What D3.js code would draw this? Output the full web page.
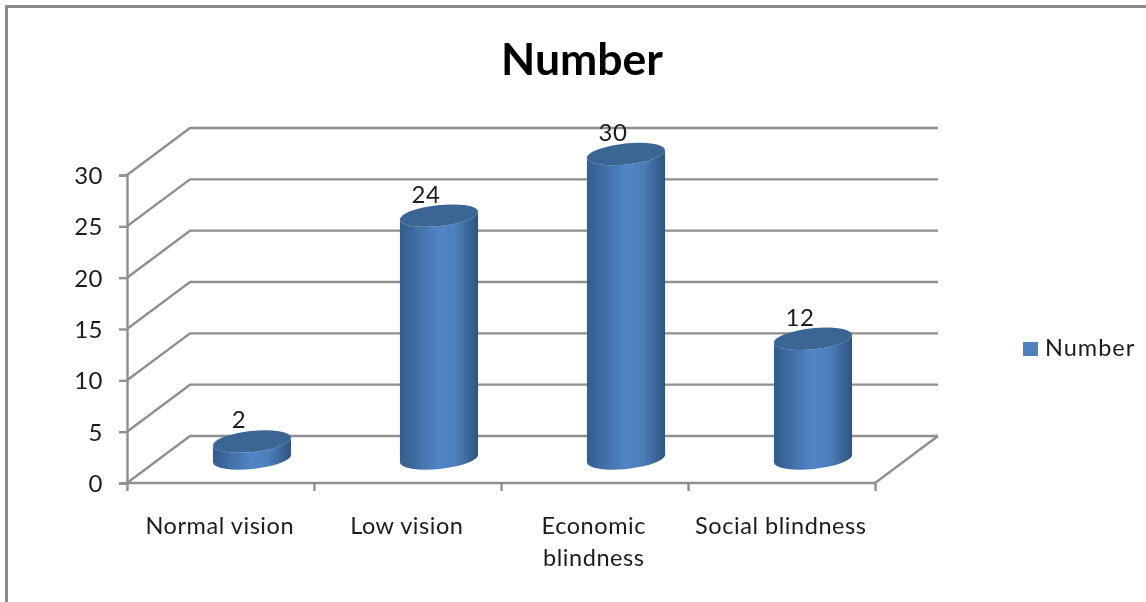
<!DOCTYPE html>
<html>
<head>
<meta charset="utf-8">
<script src="https://d3js.org/d3.v7.min.js"></script>
<style>
	html, body { margin: 0; padding: 0; background: #fff; }
	svg { display: block; }
	text { font-family: Lato, "Open Sans", sans-serif; fill: #1c1c1c; }
</style>
</head>
<body>
<div id="chart"></div>
<script>
const categories = [["Normal vision"], ["Low vision"], ["Economic", "blindness"], ["Social blindness"]];
const values = [2, 24, 30, 12];
const yTicks = [0, 5, 10, 15, 20, 25, 30];
const seriesName = "Number";

const canvas_width = 1146;
const canvas_height = 602;
const grey = "#8f8f8f";

// floor of the 3d box: front edge on the axes, back wall shifted by depth
const depth = {x: 63, y: -47};
const left = 127, right = 875, bottom = 483, top30 = 175;

const svg = d3.select("#chart")
	.append("svg")
		.attr("width", canvas_width)
		.attr("height", canvas_height);

const defs = svg.append("defs");
const grad = defs.append("linearGradient").attr("id", "cyl");
grad.append("stop").attr("offset", "0%").attr("stop-color", "#325d8c");
grad.append("stop").attr("offset", "50%").attr("stop-color", "#5285c6");
grad.append("stop").attr("offset", "72%").attr("stop-color", "#4c7eba");
grad.append("stop").attr("offset", "100%").attr("stop-color", "#2e5480");
defs.append("filter").attr("id", "soft")
	.append("feGaussianBlur").attr("stdDeviation", 0.55);

// outer frame, only top and left are in the picture
svg.append("path")
	.attr("d", d3.line()([[6.5, canvas_height], [6.5, 6.5], [canvas_width, 6.5]]))
	.attr("fill", "none")
	.attr("stroke", "#8a8a8a")
	.attr("stroke-width", 3);

const x = d3.scaleBand()
	.domain(d3.range(categories.length))
	.range([left, right]);

const y = d3.scaleLinear()
	.domain([0, 30])
	.range([bottom, top30]);

const plot = svg.append("g").attr("filter", "url(#soft)");

// gridlines run along the side wall then across the back wall
plot.append("g")
	.selectAll("path")
	.data(yTicks)
	.join("path")
		.attr("fill", "none")
		.attr("stroke", grey)
		.attr("stroke-width", 2.4)
		.attr("d", d => d3.line()([
			[left, y(d)],
			[left + depth.x, y(d) + depth.y],
			[right + depth.x, y(d) + depth.y]
		]));

// floor right edge and front edge
plot.append("path")
	.attr("fill", "none")
	.attr("stroke", grey)
	.attr("stroke-width", 2.4)
	.attr("d", d3.line()([
		[left, bottom],
		[right, bottom],
		[right + depth.x, bottom + depth.y]
	]));

// y axis
const yAxis = plot.append("g")
	.attr("transform", "translate(" + left + ",0)")
	.call(d3.axisLeft(y).tickValues(yTicks).tickSize(8).tickPadding(16));
yAxis.select(".domain").attr("stroke", grey).attr("stroke-width", 2.4);
yAxis.selectAll("line").attr("stroke", grey).attr("stroke-width", 2.4);
yAxis.selectAll("text")
	.attr("font-size", 24)
	.attr("font-family", "Lato")
	.attr("letter-spacing", 0.5)
	.attr("dy", "0.36em");

// x axis ticks sit on the band edges
const edges = d3.scaleLinear()
	.domain([0, categories.length])
	.range([left, right]);
const xAxis = plot.append("g")
	.attr("transform", "translate(0," + bottom + ")")
	.call(d3.axisBottom(edges)
		.tickValues(d3.range(categories.length + 1))
		.tickSize(8)
		.tickFormat(""));
xAxis.select(".domain").remove();
xAxis.selectAll("line").attr("stroke", grey).attr("stroke-width", 2.4);

// category labels
const catLabels = plot.append("g")
	.selectAll("text")
	.data(categories)
	.join("text")
		.attr("text-anchor", "middle")
		.attr("font-size", 23.5)
		.attr("letter-spacing", 0.55);
catLabels.selectAll("tspan")
	.data((d, i) => d.map(line => ({line, i})))
	.join("tspan")
		.attr("x", d => x(d.i) + x.bandwidth() / 2 - 0.7)
		.attr("y", (d, j) => 534 + j * 32)
		.text(d => d.line);

// cylinders
const tilt = 6 * Math.PI / 180;
const rx = x.bandwidth() * 0.21, ry = 10.5;
const barDepth = {x: 31.5, y: -21};
const cx = i => x(i) + x.bandwidth() / 2 + barDepth.x;
const topY = v => y(v) + barDepth.y;
const baseY = topY(0) - 3.5;
const ex = rx * Math.cos(tilt), ey = rx * Math.sin(tilt);
const arc = (sweep, px, py) => "A" + rx + "," + ry + " -6 0 " + sweep + " " + px + "," + py;

const bars = plot.append("g")
	.selectAll("g")
	.data(values)
	.join("g");

bars.append("path")
	.attr("fill", "url(#cyl)")
	.attr("d", (d, i) => {
		const c = cx(i), t = topY(d);
		return "M" + (c - ex) + "," + (t + ey)
			+ "L" + (c - ex) + "," + (baseY + ey)
			+ arc(0, c + ex, baseY - ey)
			+ "L" + (c + ex) + "," + (t - ey)
			+ arc(1, c - ex, t + ey) + "Z";
	});

bars.append("ellipse")
	.attr("fill", "#3b6593")
	.attr("rx", rx)
	.attr("ry", ry)
	.attr("transform", (d, i) => "translate(" + cx(i) + "," + topY(d) + ") rotate(-6)");

// data labels
plot.append("g")
	.selectAll("text")
	.data(values)
	.join("text")
		.attr("text-anchor", "middle")
		.attr("font-size", 24)
		.attr("letter-spacing", 0.5)
		.attr("x", (d, i) => cx(i) - 13)
		.attr("y", d => topY(d) - 13)
		.text(d => d);

// title
plot.append("text")
	.attr("x", 582)
	.attr("y", 75)
	.attr("text-anchor", "middle")
	.attr("font-size", 44.5)
	.attr("font-weight", 700)
	.style("fill", "#000")
	.text(seriesName);

// legend
plot.append("rect")
	.attr("x", 1023)
	.attr("y", 342)
	.attr("width", 15)
	.attr("height", 14)
	.attr("fill", "#4f81bd");
plot.append("text")
	.attr("x", 1045)
	.attr("y", 356)
	.attr("font-size", 23.5)
	.attr("letter-spacing", 1)
	.text(seriesName);
</script>
</body>
</html>
